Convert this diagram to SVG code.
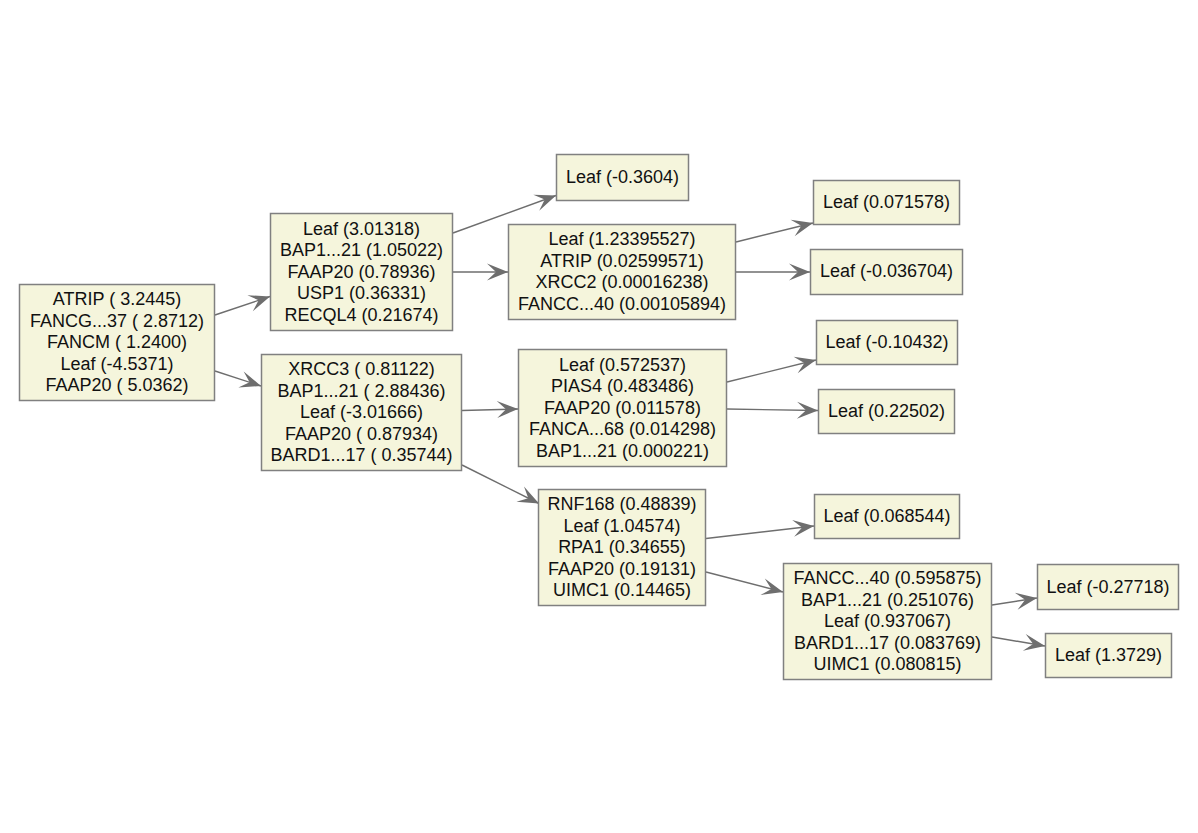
<svg xmlns="http://www.w3.org/2000/svg" width="1198" height="833" viewBox="0 0 1198 833">
<style>
.box{fill:#f5f5dc;stroke:#808080;stroke-width:1.5}
.t{font-family:"Liberation Sans",Arial,sans-serif;font-size:18px;fill:#111;text-anchor:middle}
.e{stroke:#6e6e6e;stroke-width:1.4;fill:none;marker-end:url(#ah)}
</style>
<defs>
<marker id="ah" markerUnits="userSpaceOnUse" markerWidth="26" markerHeight="20" viewBox="-23 -10 24 20" refX="0" refY="0" orient="auto">
<path d="M0,0 L-21,-8.5 L-12,0 L-21,8.5 Z" fill="#6e6e6e"/>
</marker>
</defs>
<rect width="1198" height="833" fill="#ffffff"/>
<g id="connectors">
<line class="e" x1="215" y1="315" x2="270" y2="296.5"/>
<line class="e" x1="215" y1="371" x2="261" y2="386"/>
<line class="e" x1="453" y1="233" x2="556" y2="195.5"/>
<line class="e" x1="453" y1="272" x2="508" y2="272"/>
<line class="e" x1="736" y1="242" x2="813" y2="223"/>
<line class="e" x1="736" y1="272" x2="810" y2="272"/>
<line class="e" x1="462" y1="410.5" x2="518" y2="409"/>
<line class="e" x1="462" y1="465" x2="539" y2="503.5"/>
<line class="e" x1="727" y1="382" x2="816" y2="360"/>
<line class="e" x1="727" y1="409" x2="818" y2="410.5"/>
<line class="e" x1="706" y1="538.5" x2="814" y2="526"/>
<line class="e" x1="706" y1="572" x2="783" y2="592"/>
<line class="e" x1="992" y1="605" x2="1037" y2="598"/>
<line class="e" x1="992" y1="637" x2="1045" y2="646"/>
</g>
<g id="root">
<rect class="box" x="19.5" y="284.5" width="195" height="116"/>
<text class="t" y="305"><tspan x="117">ATRIP ( 3.2445)</tspan><tspan x="117" dy="21.5">FANCG...37 ( 2.8712)</tspan><tspan x="117" dy="21.5">FANCM ( 1.2400)</tspan><tspan x="117" dy="21.5">Leaf (-4.5371)</tspan><tspan x="117" dy="21.5">FAAP20 ( 5.0362)</tspan></text>
</g>
<g id="n1">
<rect class="box" x="270.5" y="213.5" width="182" height="117"/>
<text class="t" y="234.5"><tspan x="361.5">Leaf (3.01318)</tspan><tspan x="361.5" dy="21.5">BAP1...21 (1.05022)</tspan><tspan x="361.5" dy="21.5">FAAP20 (0.78936)</tspan><tspan x="361.5" dy="21.5">USP1 (0.36331)</tspan><tspan x="361.5" dy="21.5">RECQL4 (0.21674)</tspan></text>
</g>
<g id="leaf1">
<rect class="box" x="556.5" y="154.5" width="132" height="46"/>
<text class="t" x="622.5" y="183">Leaf (-0.3604)</text>
</g>
<g id="n2">
<rect class="box" x="508.5" y="224.5" width="227" height="95"/>
<text class="t" y="245.25"><tspan x="622">Leaf (1.23395527)</tspan><tspan x="622" dy="21.5">ATRIP (0.02599571)</tspan><tspan x="622" dy="21.5">XRCC2 (0.00016238)</tspan><tspan x="622" dy="21.5">FANCC...40 (0.00105894)</tspan></text>
</g>
<g id="leaf2">
<rect class="box" x="813.5" y="180.5" width="146" height="44"/>
<text class="t" x="886.5" y="208">Leaf (0.071578)</text>
</g>
<g id="leaf3">
<rect class="box" x="810.5" y="249.5" width="152" height="45"/>
<text class="t" x="886.5" y="277">Leaf (-0.036704)</text>
</g>
<g id="n3">
<rect class="box" x="261.5" y="354.5" width="200" height="116"/>
<text class="t" y="375"><tspan x="361.5">XRCC3 ( 0.81122)</tspan><tspan x="361.5" dy="21.5">BAP1...21 ( 2.88436)</tspan><tspan x="361.5" dy="21.5">Leaf (-3.01666)</tspan><tspan x="361.5" dy="21.5">FAAP20 ( 0.87934)</tspan><tspan x="361.5" dy="21.5">BARD1...17 ( 0.35744)</tspan></text>
</g>
<g id="n4">
<rect class="box" x="518.5" y="349.5" width="208" height="117"/>
<text class="t" y="370.5"><tspan x="622.5">Leaf (0.572537)</tspan><tspan x="622.5" dy="21.5">PIAS4 (0.483486)</tspan><tspan x="622.5" dy="21.5">FAAP20 (0.011578)</tspan><tspan x="622.5" dy="21.5">FANCA...68 (0.014298)</tspan><tspan x="622.5" dy="21.5">BAP1...21 (0.000221)</tspan></text>
</g>
<g id="leaf4">
<rect class="box" x="816.5" y="320.5" width="141" height="44"/>
<text class="t" x="887" y="348">Leaf (-0.10432)</text>
</g>
<g id="leaf5">
<rect class="box" x="818.5" y="389.5" width="136" height="44"/>
<text class="t" x="886.5" y="417">Leaf (0.22502)</text>
</g>
<g id="n5">
<rect class="box" x="538.5" y="489.5" width="167" height="116"/>
<text class="t" y="510"><tspan x="622">RNF168 (0.48839)</tspan><tspan x="622" dy="21.5">Leaf (1.04574)</tspan><tspan x="622" dy="21.5">RPA1 (0.34655)</tspan><tspan x="622" dy="21.5">FAAP20 (0.19131)</tspan><tspan x="622" dy="21.5">UIMC1 (0.14465)</tspan></text>
</g>
<g id="leaf6">
<rect class="box" x="814.5" y="494.5" width="145" height="44"/>
<text class="t" x="887" y="522">Leaf (0.068544)</text>
</g>
<g id="n6">
<rect class="box" x="783.5" y="563.5" width="208" height="116"/>
<text class="t" y="584"><tspan x="887.5">FANCC...40 (0.595875)</tspan><tspan x="887.5" dy="21.5">BAP1...21 (0.251076)</tspan><tspan x="887.5" dy="21.5">Leaf (0.937067)</tspan><tspan x="887.5" dy="21.5">BARD1...17 (0.083769)</tspan><tspan x="887.5" dy="21.5">UIMC1 (0.080815)</tspan></text>
</g>
<g id="leaf7">
<rect class="box" x="1037.5" y="564.5" width="141" height="45"/>
<text class="t" x="1108" y="592.5">Leaf (-0.27718)</text>
</g>
<g id="leaf8">
<rect class="box" x="1045.5" y="633.5" width="126" height="44"/>
<text class="t" x="1108.5" y="661">Leaf (1.3729)</text>
</g>
</svg>
